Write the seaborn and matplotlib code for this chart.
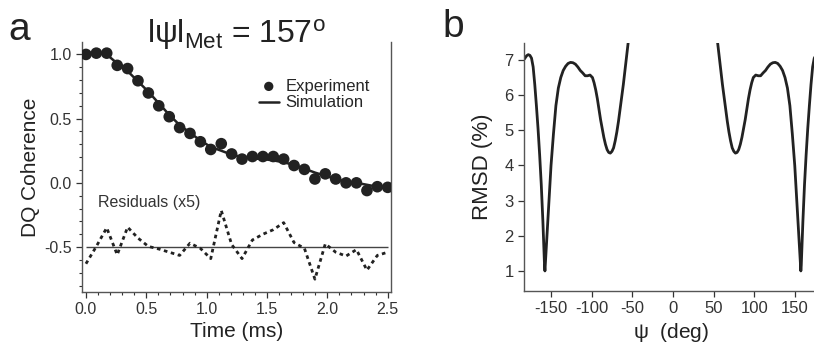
import numpy as np
import pandas as pd
import matplotlib
matplotlib.use('Agg')
import matplotlib.pyplot as plt
from matplotlib.ticker import MultipleLocator
import seaborn as sns

# panel a data: DQ coherence vs time
time_ms = [0.0, 0.086, 0.172, 0.259, 0.345, 0.431, 0.517, 0.603, 0.690, 0.776,
           0.862, 0.948, 1.034, 1.121, 1.207, 1.293, 1.379, 1.466, 1.552, 1.638,
           1.724, 1.810, 1.897, 1.983, 2.069, 2.155, 2.241, 2.328, 2.414, 2.5]
experiment = [1.0, 1.01, 1.01, 0.915, 0.89, 0.795, 0.70, 0.60, 0.515, 0.43,
              0.385, 0.32, 0.26, 0.305, 0.225, 0.185, 0.205, 0.205, 0.205, 0.185,
              0.135, 0.105, 0.03, 0.07, 0.03, 0.0, 0.0, -0.06, -0.03, -0.035]
simulation = [1.0, 1.01, 1.0, 0.93, 0.87, 0.79, 0.71, 0.62, 0.53, 0.45,
              0.39, 0.33, 0.28, 0.25, 0.22, 0.20, 0.19, 0.185, 0.175, 0.16,
              0.14, 0.11, 0.08, 0.055, 0.03, 0.01, 0.0, -0.015, -0.03, -0.04]
residual_shown = [-0.63, -0.495, -0.35, -0.56, -0.345, -0.43, -0.495, -0.515, -0.54, -0.565,
                  -0.47, -0.51, -0.59, -0.215, -0.48, -0.59, -0.445, -0.40, -0.365, -0.31,
                  -0.465, -0.51, -0.75, -0.475, -0.54, -0.57, -0.52, -0.68, -0.565, -0.54]

# panel b data: RMSD vs psi (two branches, middle is off scale)
psi_neg = [-183, -180, -178, -176, -174, -172, -170, -168, -166, -164, -162, -160, -158,
           -157.5, -156, -154, -152, -150, -147, -144, -141, -138, -135, -132, -129, -126, -123,
           -120, -117, -114, -111, -108, -105, -102, -99, -97, -95, -93, -91, -89, -87,
           -85, -83, -81, -79, -77, -75, -73, -71, -69, -67, -65, -63, -61, -59, -57, -55, -53]
rmsd_neg = [7.02, 7.12, 7.15, 7.13, 7.05, 6.8, 6.3, 5.7, 5.05, 4.3, 3.45, 2.4, 1.15,
            1.0, 1.6, 2.4, 3.2, 4.0, 4.9, 5.7, 6.2, 6.5, 6.7, 6.82, 6.9, 6.93, 6.92,
            6.88, 6.8, 6.7, 6.63, 6.55, 6.55, 6.57, 6.5, 6.35, 6.15, 5.9, 5.6, 5.3, 5.05,
            4.8, 4.6, 4.45, 4.37, 4.35, 4.4, 4.5, 4.7, 4.95, 5.25, 5.6, 5.95, 6.3, 6.7, 7.1, 7.5, 7.9]
psi_pos = [53, 55, 57, 59, 61, 63, 65, 67, 69, 71, 73, 75, 77, 79, 81, 83, 85, 87, 89,
           91, 93, 95, 97, 99, 102, 105, 108, 111, 114, 117, 120, 123, 126, 129, 132,
           135, 138, 141, 144, 147, 150, 152, 154, 156, 157.5, 158, 160, 162, 164, 166, 168,
           170, 172, 174, 176, 178]
rmsd_pos = [7.9, 7.5, 7.1, 6.7, 6.3, 5.95, 5.6, 5.25, 4.95, 4.7, 4.5, 4.4, 4.35, 4.37,
            4.45, 4.6, 4.8, 5.05, 5.3, 5.6, 5.9, 6.15, 6.35, 6.5, 6.57, 6.55, 6.55,
            6.63, 6.7, 6.8, 6.88, 6.92, 6.93, 6.9, 6.82, 6.7, 6.5, 6.2, 5.7, 4.9,
            4.0, 3.2, 2.4, 1.6, 1.0, 1.15, 2.4, 3.45, 4.3, 5.05, 5.7, 6.3, 6.8, 7.05, 7.13, 7.15]

df_a = pd.DataFrame({'t': time_ms, 'exp': experiment, 'sim': simulation, 'res': residual_shown})
df_neg = pd.DataFrame({'psi': psi_neg, 'rmsd': rmsd_neg})
df_pos = pd.DataFrame({'psi': psi_pos, 'rmsd': rmsd_pos})

sns.set_theme(style='ticks')
plt.rcParams['font.family'] = ['Liberation Sans', 'DejaVu Sans']
plt.rcParams['mathtext.fontset'] = 'custom'
plt.rcParams['mathtext.rm'] = 'Liberation Sans'
plt.rcParams['mathtext.it'] = 'Liberation Sans'
plt.rcParams['axes.unicode_minus'] = False

ink = '#222222'
fig = plt.figure(figsize=(8.14, 3.5), dpi=100)

# ---- panel a
ax = fig.add_axes([0.1007, 0.1657, 0.3793, 0.714])
sns.lineplot(data=df_a, x='t', y='sim', ax=ax, color=ink, lw=1.8, label='Simulation', legend=False)
sns.scatterplot(data=df_a, x='t', y='exp', ax=ax, color=ink, s=70, edgecolor='none',
                label='Experiment', legend=False, zorder=3)
ax.hlines(-0.5, time_ms[0], time_ms[-1], color='#444444', lw=1.0)
sns.lineplot(data=df_a, x='t', y='res', ax=ax, color=ink, lw=2.0, linestyle=(0, (1.3, 1.3)),
             legend=False)
ax.set_xlim(-0.033, 2.525)
ax.set_ylim(-0.85, 1.096)
ax.set_xticks([0.0, 0.5, 1.0, 1.5, 2.0, 2.5])
ax.set_yticks([-0.5, 0.0, 0.5, 1.0])
ax.xaxis.set_minor_locator(MultipleLocator(0.1))
ax.yaxis.set_minor_locator(MultipleLocator(0.1))
ax.set_xticklabels(['0.0', '0.5', '1.0', '1.5', '2.0', '2.5'])
ax.set_yticklabels(['-0.5', '0.0', '0.5', '1.0'])
ax.tick_params(which='major', length=4, width=0.9, labelsize=11.5, colors='#333333')
ax.tick_params(which='minor', length=2.5, width=0.8, colors='#333333')
ax.spines['top'].set_visible(False)
for s in ['left', 'bottom', 'right']:
    ax.spines[s].set_color('#555555')
    ax.spines[s].set_linewidth(1.0)
ax.set_xlabel('Time (ms)', fontsize=15, color='#222222', labelpad=3)
ax.set_ylabel('DQ Coherence', fontsize=15, color='#222222', labelpad=3)
ax.text(0.5, 0.996, r'l$\psi$l$_{\rm Met}$ = 157$^{\rm o}$', transform=ax.transAxes,
        fontsize=23, color='#222222', ha='center', va='baseline')
handles, labels = ax.get_legend_handles_labels()
order = [labels.index('Experiment'), labels.index('Simulation')]
ax.legend([handles[i] for i in order], [labels[i] for i in order], loc='upper right',
          bbox_to_anchor=(0.97, 0.9), frameon=False, fontsize=12, handlelength=1.2,
          handletextpad=0.4, borderaxespad=0.3, labelspacing=0.1, markerscale=0.8)
ax.text(0.1, -0.15, 'Residuals (x5)', fontsize=11.5, color='#333333', va='center')
fig.text(0.010, 0.965, 'a', fontsize=28, va='top', color='#222222')

# ---- panel b
bx = fig.add_axes([0.644, 0.1686, 0.36, 0.7074])
sns.lineplot(data=df_neg, x='psi', y='rmsd', ax=bx, color=ink, lw=2.0, legend=False)
sns.lineplot(data=df_pos, x='psi', y='rmsd', ax=bx, color=ink, lw=2.0, legend=False)
bx.set_xlim(-183, 177.7)
bx.set_ylim(0.43, 7.47)
bx.set_xticks([-150, -100, -50, 0, 50, 100, 150])
bx.set_yticks([1, 2, 3, 4, 5, 6, 7])
bx.tick_params(which='major', length=4, width=0.9, labelsize=12, colors='#333333')
bx.spines['top'].set_visible(False)
bx.spines['right'].set_visible(False)
for s in ['left', 'bottom']:
    bx.spines[s].set_color('#555555')
    bx.spines[s].set_linewidth(1.0)
bx.set_xlabel(r'$\psi$  (deg)', fontsize=15, color='#222222', labelpad=3)
bx.set_ylabel('RMSD (%)', fontsize=16, color='#222222', labelpad=8)
fig.text(0.543, 0.975, 'b', fontsize=28, va='top', color='#222222')

fig.savefig('out.png', dpi=100)
